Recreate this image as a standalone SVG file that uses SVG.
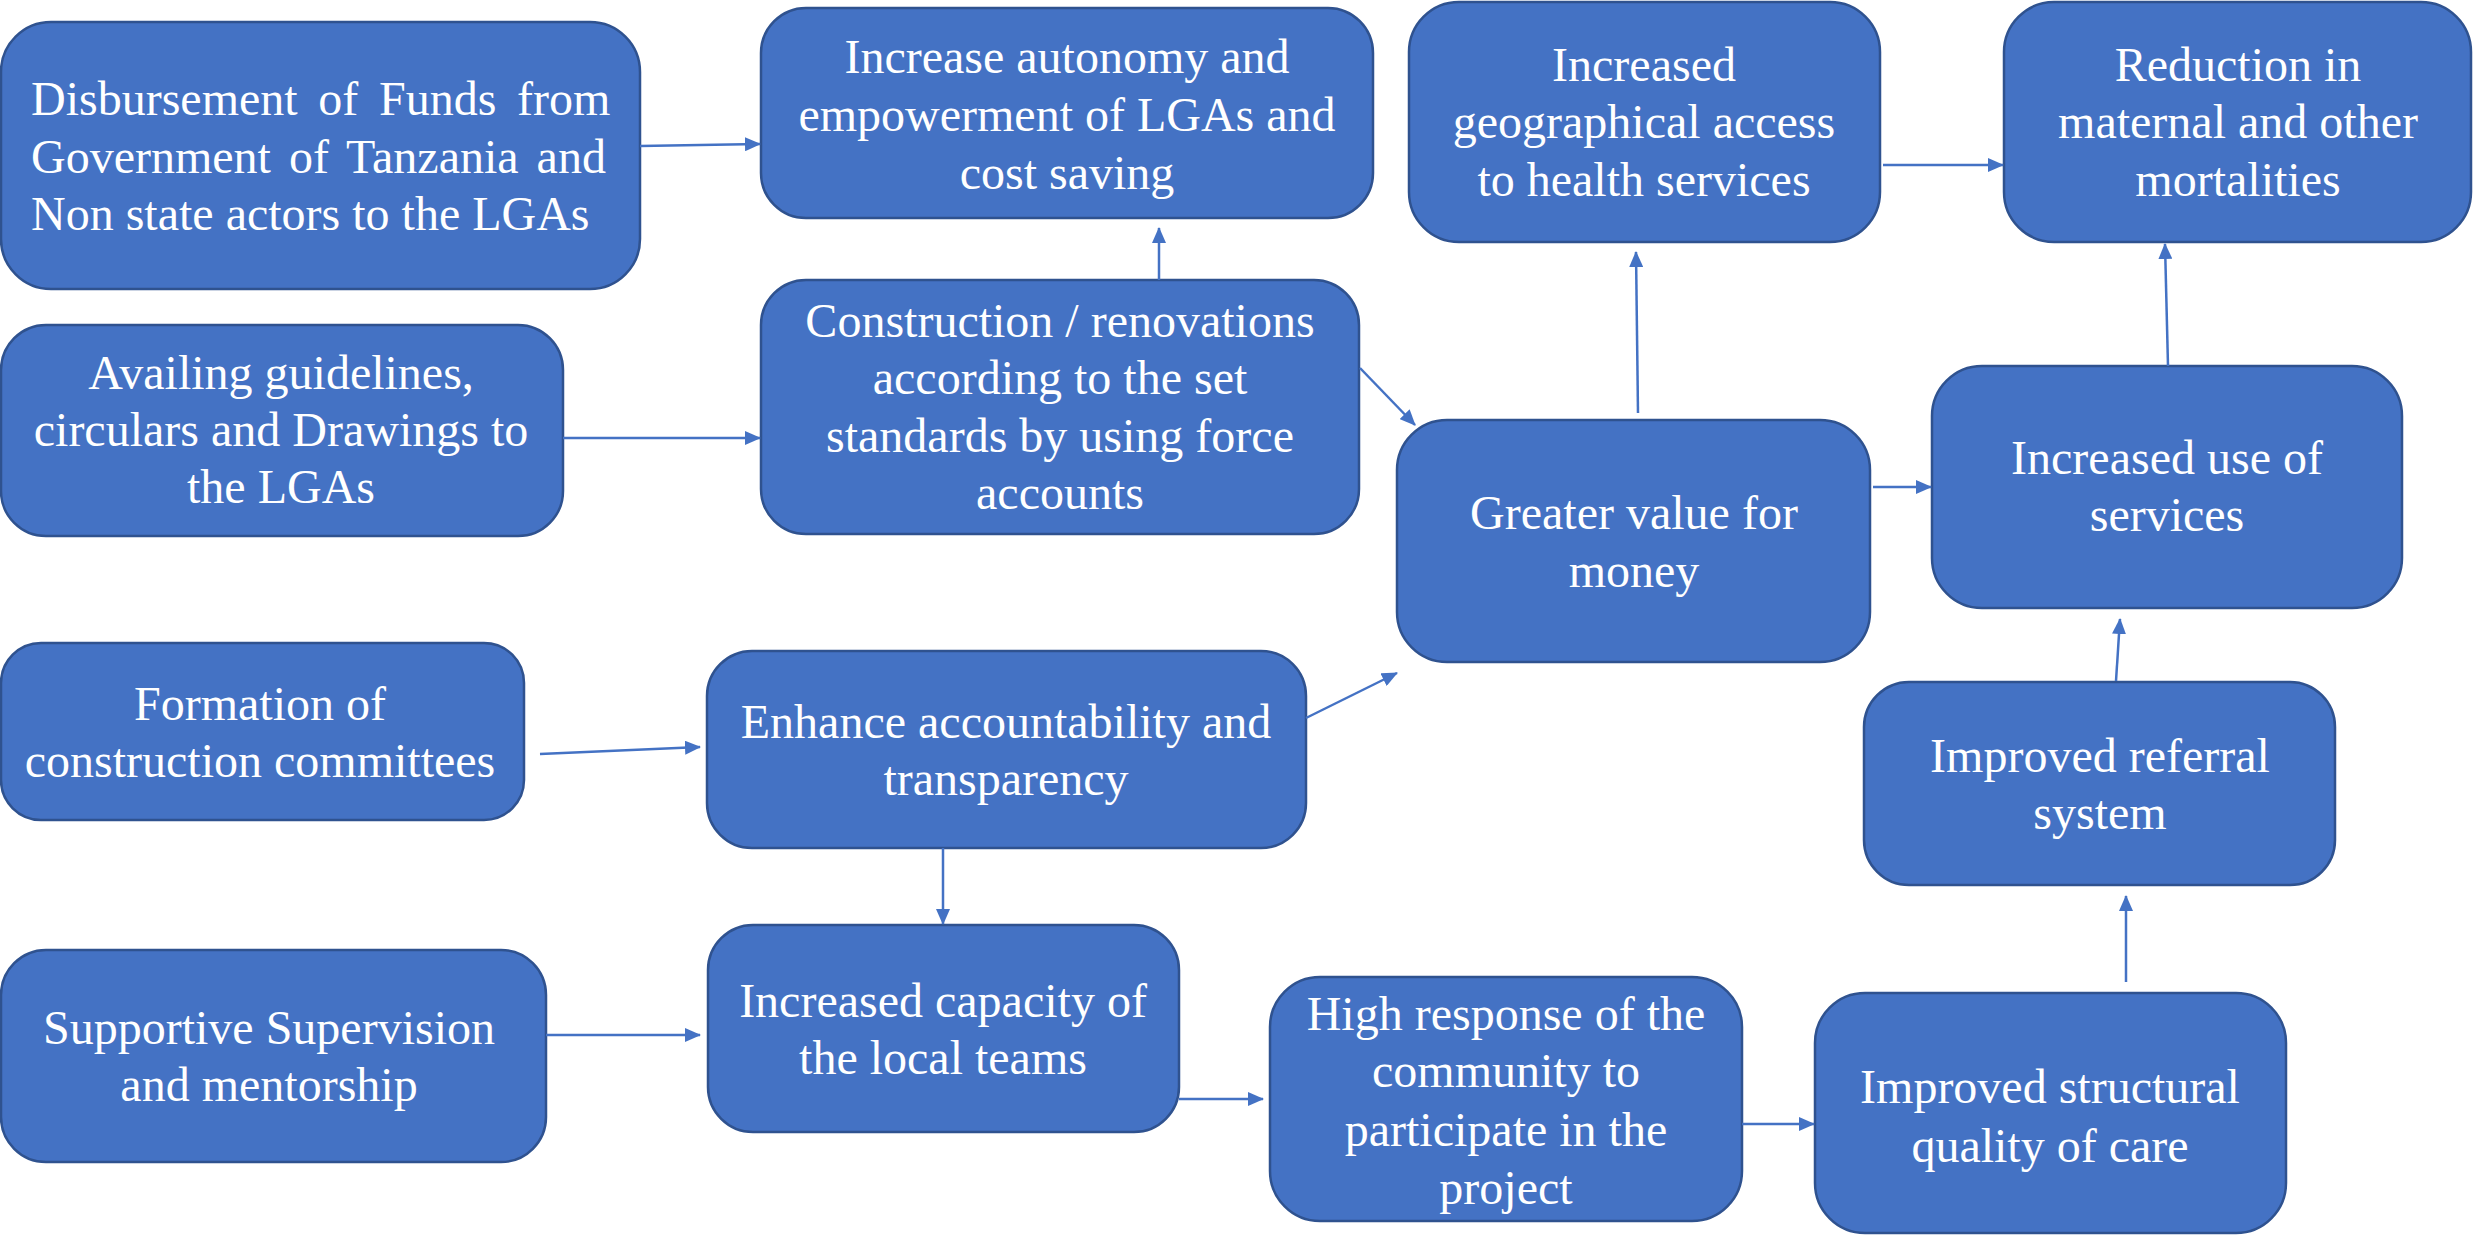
<svg xmlns="http://www.w3.org/2000/svg" width="2473" height="1236" viewBox="0 0 2473 1236">
<style>
.box{fill:#4472C4;stroke:#2F528F;stroke-width:2.5}
.t{fill:#ffffff;text-anchor:middle}
.tl{fill:#ffffff;text-anchor:start}
.c{stroke:#4472C4;stroke-width:2.5;fill:none;marker-end:url(#ah)}
</style>
<defs>
<marker id="ah" markerUnits="userSpaceOnUse" markerWidth="17" markerHeight="14" refX="15" refY="7" orient="auto">
<path d="M0,0 L16,7 L0,14 Z" fill="#4472C4"/>
</marker>
</defs>
<rect width="2473" height="1236" fill="#ffffff"/>
<g id="n1"><rect class="box" x="1" y="22" width="639" height="267" rx="50"/>
<text class="tl" font-family="Liberation Serif" font-size="48" x="31" y="115" word-spacing="8.7">Disbursement of Funds from</text>
<text class="tl" font-family="Liberation Serif" font-size="48" x="31" y="173" word-spacing="6">Government of Tanzania and</text>
<text class="tl" font-family="Liberation Serif" font-size="48" x="31" y="230">Non state actors to the LGAs</text></g>
<g id="n2"><rect class="box" x="761" y="8" width="612" height="210" rx="45"/>
<text class="t" font-family="Liberation Serif" font-size="48" x="1067" y="73">Increase autonomy and</text>
<text class="t" font-family="Liberation Serif" font-size="48" x="1067" y="131">empowerment of LGAs and</text>
<text class="t" font-family="Liberation Serif" font-size="48" x="1067" y="189">cost saving</text></g>
<g id="n3"><rect class="box" x="1" y="325" width="562" height="211" rx="45"/>
<text class="t" font-family="Liberation Serif" font-size="48" x="281" y="389">Availing guidelines,</text>
<text class="t" font-family="Liberation Serif" font-size="48" x="281" y="446">circulars and Drawings to</text>
<text class="t" font-family="Liberation Serif" font-size="48" x="281" y="503">the LGAs</text></g>
<g id="n4"><rect class="box" x="761" y="280" width="598" height="254" rx="45"/>
<text class="t" font-family="Liberation Serif" font-size="48" x="1060" y="337">Construction / renovations</text>
<text class="t" font-family="Liberation Serif" font-size="48" x="1060" y="394">according to the set</text>
<text class="t" font-family="Liberation Serif" font-size="48" x="1060" y="452">standards by using force</text>
<text class="t" font-family="Liberation Serif" font-size="48" x="1060" y="509">accounts</text></g>
<g id="n5"><rect class="box" x="1409" y="2" width="471" height="240" rx="50"/>
<text class="t" font-family="Liberation Serif" font-size="48" x="1644" y="81">Increased</text>
<text class="t" font-family="Liberation Serif" font-size="48" x="1644" y="138">geographical access</text>
<text class="t" font-family="Liberation Serif" font-size="48" x="1644" y="196">to health services</text></g>
<g id="n6"><rect class="box" x="2004" y="2" width="467" height="240" rx="50"/>
<text class="t" font-family="Liberation Serif" font-size="48" x="2238" y="81">Reduction in</text>
<text class="t" font-family="Liberation Serif" font-size="48" x="2238" y="138">maternal and other</text>
<text class="t" font-family="Liberation Serif" font-size="48" x="2238" y="196">mortalities</text></g>
<g id="n7"><rect class="box" x="1397" y="420" width="473" height="242" rx="50"/>
<text class="t" font-family="Liberation Serif" font-size="48" x="1634" y="529">Greater value for</text>
<text class="t" font-family="Liberation Serif" font-size="48" x="1634" y="587">money</text></g>
<g id="n8"><rect class="box" x="1932" y="366" width="470" height="242" rx="50"/>
<text class="t" font-family="Liberation Serif" font-size="48" x="2167" y="474">Increased use of</text>
<text class="t" font-family="Liberation Serif" font-size="48" x="2167" y="531">services</text></g>
<g id="n9"><rect class="box" x="1" y="643" width="523" height="177" rx="40"/>
<text class="t" font-family="Liberation Serif" font-size="48" x="260" y="720">Formation of</text>
<text class="t" font-family="Liberation Serif" font-size="48" x="260" y="777">construction committees</text></g>
<g id="n10"><rect class="box" x="707" y="651" width="599" height="197" rx="45"/>
<text class="t" font-family="Liberation Serif" font-size="48" x="1006" y="738">Enhance accountability and</text>
<text class="t" font-family="Liberation Serif" font-size="48" x="1006" y="795">transparency</text></g>
<g id="n11"><rect class="box" x="708" y="925" width="471" height="207" rx="45"/>
<text class="t" font-family="Liberation Serif" font-size="48" x="943" y="1017">Increased capacity of</text>
<text class="t" font-family="Liberation Serif" font-size="48" x="943" y="1074">the local teams</text></g>
<g id="n12"><rect class="box" x="1" y="950" width="545" height="212" rx="45"/>
<text class="t" font-family="Liberation Serif" font-size="48" x="269" y="1044">Supportive Supervision</text>
<text class="t" font-family="Liberation Serif" font-size="48" x="269" y="1101">and mentorship</text></g>
<g id="n13"><rect class="box" x="1270" y="977" width="472" height="244" rx="50"/>
<text class="t" font-family="Liberation Serif" font-size="48" x="1506" y="1030">High response of the</text>
<text class="t" font-family="Liberation Serif" font-size="48" x="1506" y="1087">community to</text>
<text class="t" font-family="Liberation Serif" font-size="48" x="1506" y="1146">participate in the</text>
<text class="t" font-family="Liberation Serif" font-size="48" x="1506" y="1204">project</text></g>
<g id="n14"><rect class="box" x="1815" y="993" width="471" height="240" rx="50"/>
<text class="t" font-family="Liberation Serif" font-size="48" x="2050" y="1103">Improved structural</text>
<text class="t" font-family="Liberation Serif" font-size="48" x="2050" y="1162">quality of care</text></g>
<g id="n15"><rect class="box" x="1864" y="682" width="471" height="203" rx="45"/>
<text class="t" font-family="Liberation Serif" font-size="48" x="2100" y="772">Improved referral</text>
<text class="t" font-family="Liberation Serif" font-size="48" x="2100" y="829">system</text></g>
<g id="connectors">
<line class="c" x1="640" y1="146" x2="760" y2="144"/>
<line class="c" x1="1159" y1="280" x2="1159" y2="228"/>
<line class="c" x1="563" y1="438" x2="760" y2="438"/>
<line class="c" x1="1360" y1="368" x2="1415" y2="425"/>
<line class="c" x1="1638" y1="413" x2="1636" y2="252"/>
<line class="c" x1="1883" y1="165" x2="2003" y2="165"/>
<line class="c" x1="1873" y1="487" x2="1931" y2="487"/>
<line class="c" x1="2168" y1="366" x2="2165" y2="244"/>
<line class="c" x1="540" y1="754" x2="700" y2="747"/>
<line class="c" x1="1306" y1="718" x2="1397" y2="673"/>
<line class="c" x1="943" y1="848" x2="943" y2="924"/>
<line class="c" x1="546" y1="1035" x2="700" y2="1035"/>
<line class="c" x1="1179" y1="1099" x2="1263" y2="1099"/>
<line class="c" x1="1742" y1="1124" x2="1814" y2="1124"/>
<line class="c" x1="2126" y1="982" x2="2126" y2="896"/>
<line class="c" x1="2116" y1="681" x2="2120" y2="619"/>
</g>
</svg>
